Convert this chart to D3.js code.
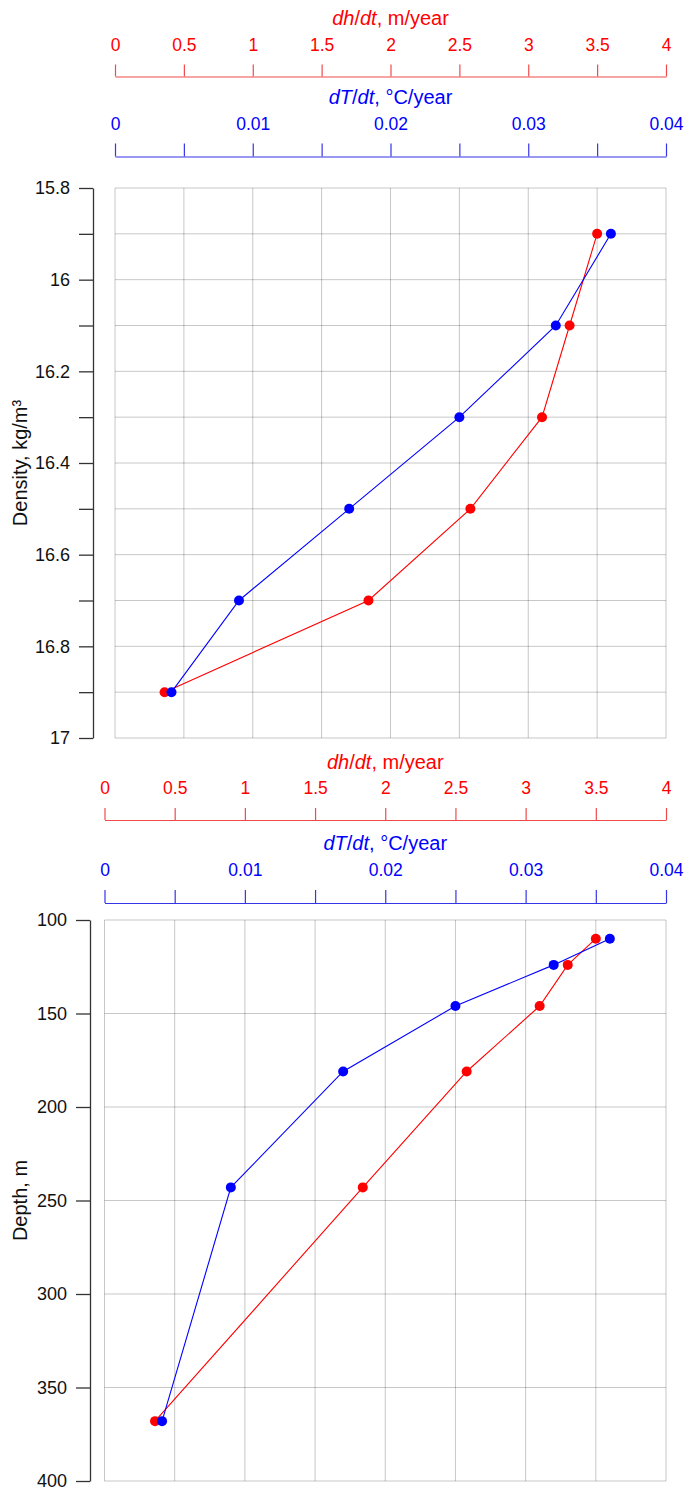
<!DOCTYPE html>
<html>
<head>
<meta charset="utf-8">
<script src="https://cdn.jsdelivr.net/npm/d3@7"></script>
<style>
  html, body { margin: 0; padding: 0; background: #fff; }
  svg { display: block; font-family: "Liberation Sans", Arial, sans-serif; }
</style>
</head>
<body>
<svg id="chart" width="686" height="1491"></svg>
<script>
// ---- data ----
const dhdt = [3.5, 3.3, 3.1, 2.58, 1.84, 0.36];            // m/year
const dTdt = [0.036, 0.032, 0.025, 0.017, 0.009, 0.0041];  // °C/year
const density = [15.9, 16.1, 16.3, 16.5, 16.7, 16.9];      // kg/m3
const depth = [110, 124, 146, 181, 243, 368];              // m
const dhTicks = [0, 0.5, 1, 1.5, 2, 2.5, 3, 3.5, 4];
const dTTicks = [0, 0.005, 0.01, 0.015, 0.02, 0.025, 0.03, 0.035, 0.04];
const dTLabels = [0, 0.01, 0.02, 0.03, 0.04];
const densityTicks = [15.8, 15.9, 16, 16.1, 16.2, 16.3, 16.4, 16.5, 16.6, 16.7, 16.8, 16.9, 17];
const densityLabels = [15.8, 16, 16.2, 16.4, 16.6, 16.8, 17];
const depthTicks = [100, 150, 200, 250, 300, 350, 400];

const svg = d3.select("#chart");
const RED = "#ff0000", BLUE = "#0000ff";
const FONT = "Liberation Sans, Arial, sans-serif";

function drawPanel(p) {
  const x1 = d3.scaleLinear().domain([0, 4]).range([p.left, p.right]);
  const x2 = d3.scaleLinear().domain([0, 0.04]).range([p.left, p.right]);
  const y = d3.scaleLinear().domain(p.yDomain).range([p.top, p.bottom]);
  const g = svg.append("g");

  // grid
  g.append("g").selectAll("line").data(dhTicks).join("line")
    .attr("x1", d => x1(d)).attr("x2", d => x1(d))
    .attr("y1", p.top).attr("y2", p.bottom)
    .attr("stroke", "#000").attr("stroke-opacity", 0.22).attr("stroke-width", 1);
  g.append("g").selectAll("line").data(p.yTicks).join("line")
    .attr("x1", p.left).attr("x2", p.right)
    .attr("y1", d => y(d)).attr("y2", d => y(d))
    .attr("stroke", "#000").attr("stroke-opacity", 0.22).attr("stroke-width", 1);

  // top red axis (dh/dt)
  const ra = g.append("g").attr("transform", `translate(0,${p.redAxisY})`)
    .call(d3.axisTop(x1).tickValues(dhTicks).tickSize(12).tickPadding(14)
      .tickFormat(d3.format("")).tickSizeOuter(0));
  ra.attr("font-size", 17.5).attr("font-family", FONT);
  ra.select(".domain").attr("stroke", "#f04a4a").attr("stroke-width", 1.2);
  ra.selectAll(".tick line").attr("stroke", "#f04a4a").attr("stroke-width", 1.2);
  ra.selectAll(".tick text").attr("fill", RED);

  // blue axis (dT/dt)
  const ba = g.append("g").attr("transform", `translate(0,${p.blueAxisY})`)
    .call(d3.axisTop(x2).tickValues(dTTicks).tickSize(13).tickPadding(14)
      .tickFormat(d => dTLabels.some(v => Math.abs(v - d) < 1e-9) ? d3.format("")(d) : "")
      .tickSizeOuter(0));
  ba.attr("font-size", 17.5).attr("font-family", FONT);
  ba.select(".domain").attr("stroke", "#3535e8").attr("stroke-width", 1.2);
  ba.selectAll(".tick line").attr("stroke", "#3535e8").attr("stroke-width", 1.2);
  ba.selectAll(".tick text").attr("fill", BLUE);

  // axis titles
  const cx = (p.left + p.right) / 2;
  const t1 = g.append("text").attr("x", cx).attr("y", p.redTitleY)
    .attr("text-anchor", "middle").attr("fill", RED).attr("font-size", 20);
  t1.append("tspan").attr("font-style", "italic").text("dh");
  t1.append("tspan").text("/");
  t1.append("tspan").attr("font-style", "italic").text("dt");
  t1.append("tspan").text(", m/year");
  const t2 = g.append("text").attr("x", cx).attr("y", p.blueTitleY)
    .attr("text-anchor", "middle").attr("fill", BLUE).attr("font-size", 20);
  t2.append("tspan").attr("font-style", "italic").text("dT");
  t2.append("tspan").text("/");
  t2.append("tspan").attr("font-style", "italic").text("dt");
  t2.append("tspan").text(", \u00B0C/year");

  // left axis
  const la = g.append("g").attr("transform", `translate(${p.axisX},0)`)
    .call(d3.axisLeft(y).tickValues(p.yTicks).tickSize(14).tickPadding(9)
      .tickFormat(d => p.yLabels.some(v => Math.abs(v - d) < 1e-9) ? d3.format("")(d) : "")
      .tickSizeOuter(0));
  la.attr("font-size", 18).attr("font-family", FONT);
  la.select(".domain").attr("stroke", "#333").attr("stroke-width", 1.3);
  la.selectAll(".tick line").attr("stroke", "#333").attr("stroke-width", 1.3);
  la.selectAll(".tick text").attr("fill", "#111");

  g.append("text")
    .attr("transform", `translate(${p.yTitleX},${(p.top + p.bottom) / 2}) rotate(-90)`)
    .attr("text-anchor", "middle").attr("fill", "#111").attr("font-size", 20)
    .text(p.yTitle);

  // series
  const yv = p.yValues;
  const redLine = d3.line().x((d, i) => x1(d)).y((d, i) => y(yv[i]));
  const blueLine = d3.line().x((d, i) => x2(d)).y((d, i) => y(yv[i]));
  g.append("path").attr("d", redLine(dhdt)).attr("fill", "none")
    .attr("stroke", RED).attr("stroke-width", 1.1);
  g.append("path").attr("d", blueLine(dTdt)).attr("fill", "none")
    .attr("stroke", BLUE).attr("stroke-width", 1.1);
  g.append("g").selectAll("circle").data(dhdt).join("circle")
    .attr("cx", d => x1(d)).attr("cy", (d, i) => y(yv[i])).attr("r", 5)
    .attr("fill", RED);
  g.append("g").selectAll("circle").data(dTdt).join("circle")
    .attr("cx", d => x2(d)).attr("cy", (d, i) => y(yv[i])).attr("r", 5)
    .attr("fill", BLUE);
}

drawPanel({
  left: 115, right: 666, top: 188, bottom: 738,
  yDomain: [15.8, 17], yTicks: densityTicks, yLabels: densityLabels, yValues: density,
  axisX: 93, yTitleX: 27, yTitle: "Density, kg/m\u00B3",
  redTitleY: 25, redAxisY: 76.5, blueTitleY: 104, blueAxisY: 156.5
});

drawPanel({
  left: 104.5, right: 666, top: 920, bottom: 1481,
  yDomain: [100, 400], yTicks: depthTicks, yLabels: depthTicks, yValues: depth,
  axisX: 90, yTitleX: 27, yTitle: "Depth, m",
  redTitleY: 769, redAxisY: 820, blueTitleY: 850, blueAxisY: 903
});
</script>
</body>
</html>
